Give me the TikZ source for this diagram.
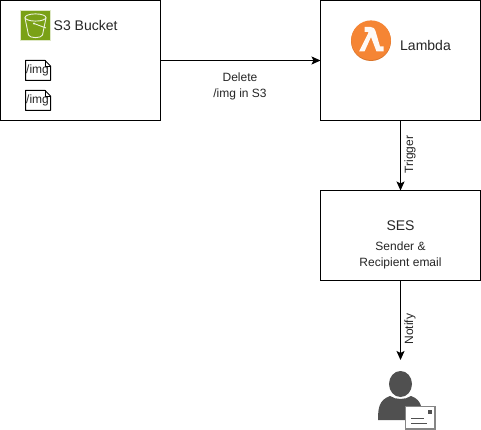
\documentclass[tikz,border=0pt]{standalone}
\usepackage{fontspec}
\setmainfont{Liberation Sans}
\usetikzlibrary{arrows.meta}
\definecolor{bucketgreen}{HTML}{7AA116}
\definecolor{lambdaorange}{HTML}{F58534}
\definecolor{lambdadark}{HTML}{D9752B}
\definecolor{usergrey}{HTML}{505050}
\tikzset{
  x=1pt,y=-1pt,
  box/.style={draw=black,line width=1pt,minimum width=160pt,inner sep=0pt,outer sep=0pt,anchor=north west},
  lbl/.style={font=\fontsize{14}{16}\selectfont,text=black!85,inner sep=0pt},
  small/.style={font=\fontsize{12}{16}\selectfont,text=black!85,inner sep=0pt,align=center},
  edgelbl/.style={font=\fontsize{12}{16}\selectfont,text=black!85,inner sep=0pt,align=center},
  conn/.style={draw=black,line width=1pt,-{Stealth[length=9pt,width=8pt,inset=2pt]}},
  doc/.style={draw=black,line width=1pt,fill=white,line join=round},
}
\begin{document}
\begin{tikzpicture}
\useasboundingbox (0,0) rectangle (481,430);
\fill[white] (0,0) rectangle (481,430);
% boxes
\node[box,minimum height=120pt] (s3) at (0.5,0.5) {};
\node[box,minimum height=120pt] (lambda) at (320.5,0.5) {};
\node[box,minimum height=90pt] (ses) at (320.5,190.5) {};
\coordinate (user) at (400.5,360);
% S3 icon
\fill[bucketgreen] (20,10) rectangle (51,41);
\draw[white!75!bucketgreen,line width=.7pt] (20.4,10.4) rectangle (50.6,40.6);
\begin{scope}[white!85!bucketgreen,line width=.9pt]
  \draw (35.5,17.5) ellipse [x radius=10.5pt,y radius=3.6pt];
  \draw (25,18) -- (28.5,35) .. controls (29.5,38.5) and (41.5,38.5) .. (42.5,35) -- (46,18);
  \draw (34,23.5) -- (46,28);
  \fill (34,23.5) circle (1.2pt);
\end{scope}
\node[lbl,anchor=west] (s3t) at (53.5,25.5) {S3 Bucket};
% doc icons
\draw[doc] (25.5,60.5) -- (45,60.5) -- (50.5,66) -- (50.5,80.5) -- (25.5,80.5) -- cycle;
\draw[black,line width=.6pt] (45,60.5) -- (45,66) -- (50.5,66);
\node[lbl,font=\fontsize{12}{13}\selectfont] (img1) at (37.5,70.5) {/img};
\draw[doc] (25.5,90.5) -- (45,90.5) -- (50.5,96) -- (50.5,110.5) -- (25.5,110.5) -- cycle;
\draw[black,line width=.6pt] (45,90.5) -- (45,96) -- (50.5,96);
\node[lbl,font=\fontsize{12}{13}\selectfont] (img2) at (37.5,100.5) {/img};
% Lambda icon
\fill[lambdadark] (371,41) circle (20pt);
\fill[lambdaorange] (371,40.2) circle (19.8pt);
\fill[white!95!lambdaorange] (364.5,27) -- (370.5,27) .. controls (373.5,27) and (374.8,28.5) .. (375.5,31)
   -- (380,46.5) -- (383.5,46.5) -- (383.5,51.5) -- (376.5,51.5) -- (371,37) -- (364.5,51.5) -- (359,51.5)
   -- (368.5,32.5) -- (367.5,31.8) -- (364.5,31.8) -- cycle;
\node[lbl,anchor=west] (lt) at (400,45.5) {Lambda};
% SES text
\node[lbl] (sest) at (400.5,225.5) {SES};
\node[small] (sesb) at (400.5,255.5) {Sender \&\\Recipient email};
% user icon
\fill[usergrey] (400.5,384) ellipse [x radius=11.5pt,y radius=13pt];
\fill[usergrey] (378,420) .. controls (378,408) and (379,400) .. (390,396) .. controls (396,400) and (405,400) .. (411,396)
  .. controls (417,398) and (420,402) .. (421,406) -- (405,406) -- (405,420) -- cycle;
\draw[usergrey!70,line width=1.3pt,fill=white] (405.5,406.5) rectangle (435,429);
\fill[usergrey] (428,409.5) rectangle (431.5,414);
\draw[usergrey,line width=.8pt] (411,418) -- (424,418) (411,423) -- (427,423);
% connectors
\draw[conn] (s3.east |- 0,60.5) -- (lambda.west |- 0,60.5);
\node[edgelbl] (del) at (240,86) {Delete\\/img in S3};
\draw[conn] (lambda.south) -- (ses.north);
\node[edgelbl,rotate=90] (trg) at (410,154.5) {Trigger};
\draw[conn] (ses.south) -- (user);
\node[edgelbl,rotate=90] (ntf) at (410,329) {Notify};
\end{tikzpicture}
\end{document}
